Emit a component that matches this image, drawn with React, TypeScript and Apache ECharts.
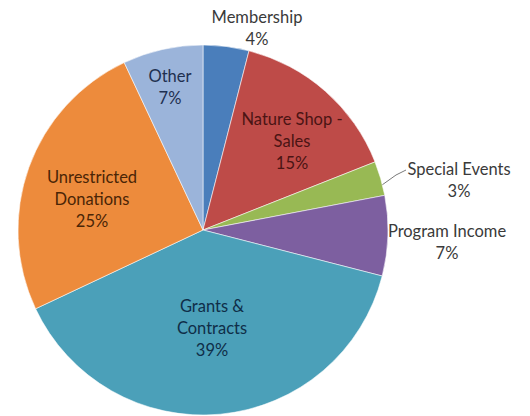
import React, { useEffect, useRef } from "react";
import * as echarts from "echarts";

const categories = [
  "Membership",
  "Nature Shop -\nSales",
  "Special Events",
  "Program Income",
  "Grants &\nContracts",
  "Unrestricted\nDonations",
  "Other",
];
const values = [4, 15, 3, 7, 39, 25, 7];
const colors = ["#4A7EBB", "#BE4B48", "#98B954", "#7D5FA0", "#4BA0B9", "#ED8B3C", "#9BB4DA"];
const labelColors = ["#3a3a3a", "#4a1414", "#3a3a3a", "#3a3a3a", "#0f2e48", "#4a2506", "#1f3050"];
// label anchor positions (centre of each label block)
const labelPos: [number, number][] = [
  [257, 28],
  [292, 141],
  [459, 180],
  [447, 242],
  [212, 328],
  [92, 199],
  [170, 87],
];
const insideLabel = [false, true, false, false, true, true, true];
const showLine = [false, false, true, false, false, false, false];

export default function App() {
  const ref = useRef<HTMLDivElement>(null);
  useEffect(() => {
    const chart = echarts.init(ref.current!, undefined, { renderer: "svg" });
    chart.setOption({
      animation: false,
      backgroundColor: "#ffffff",
      series: [
        {
          type: "pie",
          center: [203, 230],
          radius: 185,
          startAngle: 90,
          clockwise: true,
          avoidLabelOverlap: false,
          itemStyle: { borderColor: "rgba(255,255,255,0.55)", borderWidth: 1 },
          data: categories.map((name, i) => ({
            name,
            value: values[i],
            itemStyle: { color: colors[i] },
            label: {
              position: insideLabel[i] ? "inside" : "outside",
              color: labelColors[i],
            },
            labelLine: {
              show: showLine[i],
              length: 8,
              length2: 8,
              lineStyle: { color: "#7a7a7a", width: 1 },
            },
          })),
          label: {
            show: true,
            formatter: (p: any) => `${p.name}\n${p.value}%`,
            fontFamily: "Lato, 'Open Sans', sans-serif",
            fontSize: 16.5,
            lineHeight: 22,
            align: "center",
          },
          labelLayout: (p: any) => {
            const out: any = {
              x: labelPos[p.dataIndex][0],
              y: labelPos[p.dataIndex][1],
              align: "center",
              verticalAlign: "middle",
            };
            if (showLine[p.dataIndex]) {
              const r = p.labelRect;
              out.labelLinePoints = [
                [382, 185],
                [396, 175],
                [labelPos[p.dataIndex][0] - 53, labelPos[p.dataIndex][1] - 10],
              ];
            }
            return out;
          },
        },
      ],
    });
    return () => chart.dispose();
  }, []);
  return (
    <div
      ref={ref}
      style={{ position: "fixed", left: 0, top: 0, width: 530, height: 416 }}
    />
  );
}
